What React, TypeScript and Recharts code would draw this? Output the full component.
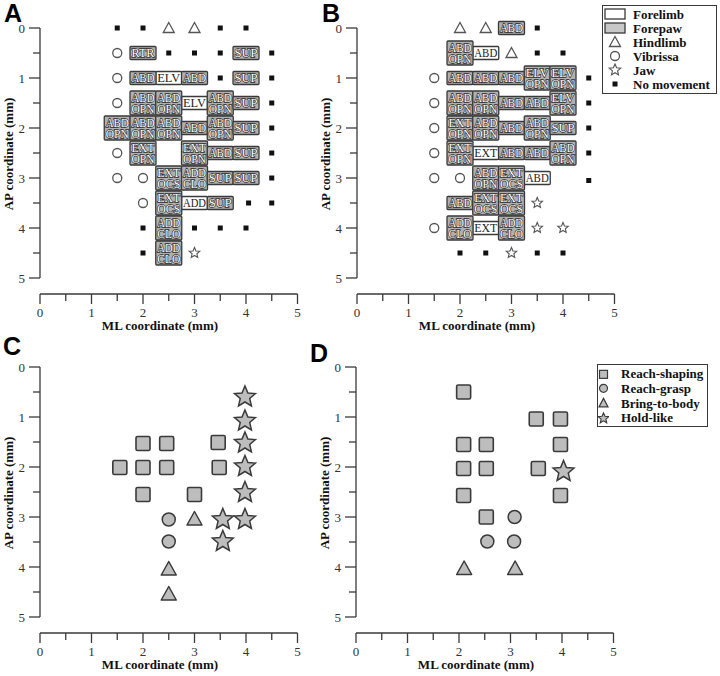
import React from 'react';
import { ScatterChart, Scatter, XAxis, YAxis, ReferenceLine, Legend } from 'recharts';

// ---- data (mm) ----
type Pt = { x: number; y: number; label?: string };
const pts = (arr: number[][]): Pt[] => arr.map(([x, y]) => ({ x, y }));
const boxes = (arr: [number, number, string][]): Pt[] => arr.map(([x, y, label]) => ({ x, y, label }));

const ML_TICKS = [0, 0.5, 1, 1.5, 2, 2.5, 3, 3.5, 4, 4.5, 5];
const AP_TICKS = [0, 0.5, 1, 1.5, 2, 2.5, 3, 3.5, 4, 4.5, 5];

// panel A
const aForelimb = boxes([[2.5, 1, 'ELV'], [3, 1.5, 'ELV'], [3, 3.5, 'ADD']]);
const aForepaw = boxes([
  [2, 0.5, 'RTR'], [4, 0.5, 'SUP'],
  [2, 1, 'ABD'], [3, 1, 'ABD'], [4, 1, 'SUP'],
  [2, 1.5, 'ABD/OPN'], [2.5, 1.5, 'ABD/OPN'], [3.5, 1.5, 'ABD/OPN'], [4, 1.5, 'SUP'],
  [1.5, 2, 'ABD/OPN'], [2, 2, 'ABD/OPN'], [2.5, 2, 'ABD/OPN'], [3, 2, 'ABD'], [3.5, 2, 'ABD/OPN'], [4, 2, 'SUP'],
  [2, 2.5, 'EXT/OPN'], [3, 2.5, 'EXT/OPN'], [3.5, 2.5, 'ABD'], [4, 2.5, 'SUP'],
  [2.5, 3, 'EXT/OCS'], [3, 3, 'ADD/CLO'], [3.5, 3, 'SUP'], [4, 3, 'SUP'],
  [2.5, 3.5, 'EXT/OCS'], [3.5, 3.5, 'SUP'],
  [2.5, 4, 'ADD/CLO'], [2.5, 4.5, 'ADD/CLO'],
]);
const aHindlimb = pts([[2.5, 0], [3, 0]]);
const aVibrissa = pts([[1.5, 0.5], [1.5, 1], [1.5, 1.5], [1.5, 2.5], [1.5, 3], [2, 3], [2, 3.5]]);
const aJaw = pts([[3, 4.5]]);
const aNoMove = pts([
  [1.5, 0], [2, 0], [3.5, 0], [4, 0],
  [2.5, 0.5], [3, 0.5], [3.5, 0.5], [4.5, 0.5],
  [3.5, 1], [4.5, 1], [4.5, 1.5], [4.5, 2], [4.5, 2.5], [4.5, 3],
  [4.05, 3.5], [4.5, 3.5],
  [2, 4], [3, 4], [3.5, 4], [4, 4], [2, 4.5],
]);

// panel B
const bForelimb = boxes([[2.5, 0.5, 'ABD'], [2.5, 2.5, 'EXT'], [3.5, 3, 'ABD'], [2.5, 4, 'EXT']]);
const bForepaw = boxes([
  [3, 0, 'ABD'], [2, 0.5, 'ABD/OPN'],
  [2, 1, 'ABD'], [2.5, 1, 'ABD'], [3, 1, 'ABD'], [3.5, 1, 'ELV/OPN'], [4, 1, 'ELV/OPN'],
  [2, 1.5, 'ABD/OPN'], [2.5, 1.5, 'ABD/OPN'], [3, 1.5, 'ABD'], [3.5, 1.5, 'ABD'], [4, 1.5, 'ELV/OPN'],
  [2, 2, 'EXT/OPN'], [2.5, 2, 'ABD/OPN'], [3, 2, 'ABD'], [3.5, 2, 'ABD/OPN'], [4, 2, 'SUP'],
  [2, 2.5, 'EXT/OPN'], [3, 2.5, 'ABD'], [3.5, 2.5, 'ABD'], [4, 2.5, 'ABD/OPN'],
  [2.5, 3, 'ABD/OPN'], [3, 3, 'EXT/OCS'],
  [2, 3.5, 'ABD'], [2.5, 3.5, 'EXT/OCS'], [3, 3.5, 'EXT/OCS'],
  [2, 4, 'ADD/CLO'], [3, 4, 'ADD/CLO'],
]);
const bHindlimb = pts([[2, 0], [2.5, 0], [3, 0.5]]);
const bVibrissa = pts([[1.5, 1], [1.5, 1.5], [1.5, 2], [1.5, 2.5], [1.5, 3], [2, 3], [1.5, 4]]);
const bJaw = pts([[3.5, 3.5], [3.5, 4], [4, 4], [3, 4.5]]);
const bNoMove = pts([
  [3.5, 0], [3.5, 0.5], [4, 0.5],
  [4.5, 1], [4.5, 1.5], [4.5, 2], [4.5, 2.5], [4.5, 3.05],
  [2, 4.5], [2.5, 4.5], [3.5, 4.5], [4, 4.5],
]);

// panel C
const cShaping = pts([[2, 1.53], [2.46, 1.53], [3.46, 1.51], [1.55, 2.01], [2, 2.01], [2.46, 2.01], [3.48, 2.01], [2, 2.55], [3, 2.55]]);
const cGrasp = pts([[2.5, 3.05], [2.5, 3.49]]);
const cBring = pts([[3, 3.05], [2.5, 4.05], [2.5, 4.55]]);
const cHold = pts([[3.98, 0.6], [3.98, 1.08], [3.98, 1.52], [3.98, 1.99], [3.98, 2.51], [3.98, 3.05], [3.55, 3.05], [3.55, 3.49]]);

// panel D
const dShaping = pts([
  [2.09, 0.5], [3.5, 1.04], [3.97, 1.04], [2.09, 1.55], [2.53, 1.55], [3.97, 1.55],
  [2.09, 2.03], [2.53, 2.03], [3.54, 2.03], [2.09, 2.57], [3.97, 2.57], [2.53, 3.0],
]);
const dGrasp = pts([[3.08, 3.0], [2.55, 3.49], [3.07, 3.49]]);
const dBring = pts([[2.1, 4.04], [3.09, 4.04]]);
const dHold = pts([[4.03, 2.09]]);

// ---- styles ----
const SERIF = '"Liberation Serif", "DejaVu Serif", serif';
const INK = '#3a3a3a';
const OPEN = '#555';
const MARK_GRAY = '#bdbdbd';
const BOX_GRAY = '#b0b0b0';

// ---- marks ----
const starPts = (cx: number, cy: number, R: number, r: number) => {
  const out: string[] = [];
  for (let i = 0; i < 10; i++) {
    const a = -Math.PI / 2 + (i * Math.PI) / 5;
    const rad = i % 2 === 0 ? R : r;
    out.push(`${cx + rad * Math.cos(a)},${cy + rad * Math.sin(a)}`);
  }
  return out.join(' ');
};

const triPts = (cx: number, cy: number, hw: number, up: number, down: number) =>
  `${cx},${cy - up} ${cx - hw},${cy + down} ${cx + hw},${cy + down}`;

function LabelBox({ cx, cy, payload, fill }: any) {
  if (cx == null || cy == null) return null;
  const lines: string[] = String(payload.label).split('/');
  const w = 26;
  const h = lines.length === 1 ? 13 : 24;
  const gray = fill !== '#fff';
  return (
    <g>
      <rect x={cx - w / 2} y={cy - h / 2} width={w} height={h} fill={fill} stroke={INK} strokeWidth={1.3} rx={1} />
      {lines.map((t, i) => (
        <text
          key={i}
          x={cx}
          y={cy - h / 2 + 10.5 + i * 11}
          textAnchor="middle"
          fontFamily={SERIF}
          fontSize={12}
          fill={gray ? '#fff' : '#222'}
          stroke={gray ? '#2a2a2a' : 'none'}
          strokeWidth={1.3}
          paintOrder="stroke"
          textLength={23}
          lengthAdjust="spacingAndGlyphs"
        >
          {t}
        </text>
      ))}
    </g>
  );
}

const whiteBox = (p: any) => <LabelBox {...p} fill="#fff" />;
const grayBox = (p: any) => <LabelBox {...p} fill={BOX_GRAY} />;
const openTri = (p: any) => <polygon points={triPts(p.cx, p.cy, 5.5, 5.5, 4.5)} fill="#fff" stroke={OPEN} strokeWidth={1.3} />;
const openCircle = (p: any) => <circle cx={p.cx} cy={p.cy} r={4.5} fill="#fff" stroke={OPEN} strokeWidth={1.3} />;
const openStar = (p: any) => <polygon points={starPts(p.cx, p.cy, 5.5, 2.5)} fill="#fff" stroke={OPEN} strokeWidth={1.1} />;
const dotSquare = (p: any) => <rect x={p.cx - 2.5} y={p.cy - 2.5} width={5} height={5} fill="#111" />;

const graySquare = (p: any) => <rect x={p.cx - 7} y={p.cy - 7} width={14} height={14} rx={1.5} fill={MARK_GRAY} stroke={INK} strokeWidth={1.6} />;
const grayCircle = (p: any) => <circle cx={p.cx} cy={p.cy} r={6.5} fill={MARK_GRAY} stroke={INK} strokeWidth={1.5} />;
const grayTri = (p: any) => <polygon points={triPts(p.cx, p.cy, 7.5, 8, 5.5)} fill={MARK_GRAY} stroke={INK} strokeWidth={1.5} strokeLinejoin="round" />;
const grayStar = (p: any) => <polygon points={starPts(p.cx, p.cy, 11, 5)} fill={MARK_GRAY} stroke={INK} strokeWidth={1.5} />;

// ---- legend icons ----
const iconsB: Record<string, (cx: number, cy: number) => React.ReactNode> = {
  Forelimb: (cx, cy) => <rect x={cx - 10} y={cy - 5} width={20} height={10} fill="#fff" stroke={INK} strokeWidth={1.3} />,
  Forepaw: (cx, cy) => <rect x={cx - 10} y={cy - 5} width={20} height={10} fill="#c8c8c8" stroke={INK} strokeWidth={1.3} />,
  Hindlimb: (cx, cy) => <polygon points={triPts(cx, cy, 5.5, 5.5, 4.5)} fill="#fff" stroke={OPEN} strokeWidth={1.3} />,
  Vibrissa: (cx, cy) => <circle cx={cx} cy={cy} r={4.5} fill="#fff" stroke={OPEN} strokeWidth={1.3} />,
  Jaw: (cx, cy) => <polygon points={starPts(cx, cy, 6, 2.7)} fill="#fff" stroke={OPEN} strokeWidth={1.1} />,
  'No movement': (cx, cy) => <rect x={cx - 2.5} y={cy - 2.5} width={5} height={5} fill="#111" />,
};
const iconsD: Record<string, (cx: number, cy: number) => React.ReactNode> = {
  'Reach-shaping': (cx, cy) => <rect x={cx - 4} y={cy - 4} width={8} height={8} fill={MARK_GRAY} stroke={INK} strokeWidth={1.2} />,
  'Reach-grasp': (cx, cy) => <circle cx={cx} cy={cy} r={4} fill={MARK_GRAY} stroke={INK} strokeWidth={1.2} />,
  'Bring-to-body': (cx, cy) => <polygon points={triPts(cx, cy, 4.5, 5, 3.5)} fill={MARK_GRAY} stroke={INK} strokeWidth={1.2} />,
  'Hold-like': (cx, cy) => <polygon points={starPts(cx, cy, 5.5, 2.5)} fill={MARK_GRAY} stroke={INK} strokeWidth={1.1} />,
};

type LegendBox = { w: number; h: number; pt: number; rowH: number; iconW: number; gap: number };

const makeLegend = (names: string[], icons: Record<string, (cx: number, cy: number) => React.ReactNode>, box: LegendBox) =>
  (props: any) => {
    const items = [...(props.payload || [])].sort((a: any, b: any) => names.indexOf(a.value) - names.indexOf(b.value));
    return (
      <div style={{ width: box.w, height: box.h, boxSizing: 'border-box', border: `1.5px solid ${INK}`, background: '#fff', paddingTop: box.pt }}>
        {items.map((e: any) => (
          <div key={e.value} style={{ display: 'flex', alignItems: 'center', height: box.rowH }}>
            <svg width={box.iconW} height={box.rowH} style={{ flex: 'none' }}>
              {icons[e.value]?.(box.iconW / 2, box.rowH / 2)}
            </svg>
            <span style={{ marginLeft: box.gap, fontFamily: SERIF, fontWeight: 'bold', fontSize: 13, color: '#111', lineHeight: 1 }}>
              {e.value}
            </span>
          </div>
        ))}
      </div>
    );
  };

// ---- axes ----
const renderXTick = (p: any) => {
  const major = Number.isInteger(p.payload.value);
  return (
    <g>
      <line x1={p.x} x2={p.x} y1={p.y} y2={p.y + (major ? 10 : 7)} stroke={INK} strokeWidth={1.3} />
      {major && (
        <text x={p.x} y={p.y + 23} textAnchor="middle" fontFamily={SERIF} fontSize={13} fill="#333">
          {p.payload.value}
        </text>
      )}
    </g>
  );
};

const renderYTick = (p: any) => {
  const major = Number.isInteger(p.payload.value);
  return (
    <g>
      <line x1={p.x - (major ? 11 : 7)} x2={p.x} y1={p.y} y2={p.y} stroke={INK} strokeWidth={1.3} />
      {major && (
        <text x={p.x - 15} y={p.y + 4.5} textAnchor="end" fontFamily={SERIF} fontSize={13} fill="#333">
          {p.payload.value}
        </text>
      )}
    </g>
  );
};

const renderXTitle = (p: any) => {
  const vb = p?.viewBox ?? { x: 40, y: 294, width: 257.5 };
  return (
    <text x={vb.x + 120} y={vb.y + 36} textAnchor="middle" fontFamily={SERIF} fontWeight="bold" fontSize={13} fill="#111">
      ML coordinate (mm)
    </text>
  );
};

const renderYTitle = (p: any) => {
  const vb = p?.viewBox ?? { x: 0, y: 28 };
  const x = vb.x + 13;
  const y = vb.y + 126;
  return (
    <text x={x} y={y} transform={`rotate(-90, ${x}, ${y})`} textAnchor="middle" fontFamily={SERIF} fontWeight="bold" fontSize={13} fill="#111">
      AP coordinate (mm)
    </text>
  );
};

type Series = { name: string; data: Pt[]; shape: (p: any) => React.ReactElement };

const seriesA: Series[] = [
  { name: 'Forelimb', data: aForelimb, shape: whiteBox },
  { name: 'Forepaw', data: aForepaw, shape: grayBox },
  { name: 'Hindlimb', data: aHindlimb, shape: openTri },
  { name: 'Vibrissa', data: aVibrissa, shape: openCircle },
  { name: 'Jaw', data: aJaw, shape: openStar },
  { name: 'No movement', data: aNoMove, shape: dotSquare },
];
const seriesB: Series[] = [
  { name: 'Forelimb', data: bForelimb, shape: whiteBox },
  { name: 'Forepaw', data: bForepaw, shape: grayBox },
  { name: 'Hindlimb', data: bHindlimb, shape: openTri },
  { name: 'Vibrissa', data: bVibrissa, shape: openCircle },
  { name: 'Jaw', data: bJaw, shape: openStar },
  { name: 'No movement', data: bNoMove, shape: dotSquare },
];
const seriesC: Series[] = [
  { name: 'Reach-shaping', data: cShaping, shape: graySquare },
  { name: 'Reach-grasp', data: cGrasp, shape: grayCircle },
  { name: 'Bring-to-body', data: cBring, shape: grayTri },
  { name: 'Hold-like', data: cHold, shape: grayStar },
];
const seriesD: Series[] = [
  { name: 'Reach-shaping', data: dShaping, shape: graySquare },
  { name: 'Reach-grasp', data: dGrasp, shape: grayCircle },
  { name: 'Bring-to-body', data: dBring, shape: grayTri },
  { name: 'Hold-like', data: dHold, shape: grayStar },
];

const PLOT_RIGHT = 297.5;

function Panel({ width, series, legend }: { width: number; series: Series[]; legend?: { content: any; left: number; top: number; w: number; h: number } }) {
  return (
    <ScatterChart width={width} height={339} margin={{ top: 28, right: width - PLOT_RIGHT, bottom: 0, left: 0 }}>
      <XAxis
        type="number"
        dataKey="x"
        domain={[0, 5]}
        ticks={ML_TICKS}
        interval={0}
        height={45}
        tickSize={0}
        tickMargin={0}
        tickLine={false}
        tick={renderXTick}
        axisLine={{ stroke: INK, strokeWidth: 1.3 }}
        label={renderXTitle}
      />
      <YAxis
        type="number"
        dataKey="y"
        domain={[0, 5.32]}
        reversed
        ticks={AP_TICKS}
        interval={0}
        width={40}
        tickSize={0}
        tickMargin={0}
        tickLine={false}
        tick={renderYTick}
        axisLine={false}
        label={renderYTitle}
      />
      <ReferenceLine segment={[{ x: 0, y: 0 }, { x: 0, y: 5 }]} stroke={INK} strokeWidth={1.3} />
      {series.map((s) => (
        <Scatter key={s.name} name={s.name} data={s.data} shape={s.shape} isAnimationActive={false} />
      ))}
      {legend && (
        <Legend
          layout="vertical"
          align="center"
          verticalAlign="middle"
          content={legend.content}
          wrapperStyle={{ left: legend.left, top: legend.top, width: legend.w, height: legend.h, margin: 0, padding: 0 }}
        />
      )}
    </ScatterChart>
  );
}

const letterStyle = (left: number, top: number): React.CSSProperties => ({
  position: 'absolute',
  left,
  top,
  fontFamily: '"Liberation Sans", Arial, sans-serif',
  fontWeight: 'bold',
  fontSize: 25,
  lineHeight: '25px',
  color: '#000',
});

export default function App() {
  const legendB = {
    content: makeLegend(seriesB.map((s) => s.name), iconsB, { w: 115, h: 89, pt: 1, rowH: 14, iconW: 24, gap: 6 }),
    left: 285,
    top: 5,
    w: 115,
    h: 89,
  };
  const legendD = {
    content: makeLegend(seriesD.map((s) => s.name), iconsD, { w: 111, h: 63, pt: 1.5, rowH: 14.7, iconW: 11, gap: 12 }),
    left: 281,
    top: 25,
    w: 111,
    h: 63,
  };

  return (
    <div style={{ position: 'absolute', left: 0, top: 0, width: 720, height: 676, background: '#fff', overflow: 'hidden' }}>
      <div style={{ position: 'absolute', left: 0, top: 0 }}>
        <Panel width={316} series={seriesA} />
      </div>
      <div style={{ position: 'absolute', left: 317, top: 0 }}>
        <Panel width={403} series={seriesB} legend={legendB} />
      </div>
      <div style={{ position: 'absolute', left: 0, top: 339 }}>
        <Panel width={316} series={seriesC} />
      </div>
      <div style={{ position: 'absolute', left: 316, top: 339 }}>
        <Panel width={404} series={seriesD} legend={legendD} />
      </div>
      <div style={letterStyle(4, 1)}>A</div>
      <div style={letterStyle(322, 1)}>B</div>
      <div style={letterStyle(3, 334)}>C</div>
      <div style={letterStyle(310, 341)}>D</div>
    </div>
  );
}
